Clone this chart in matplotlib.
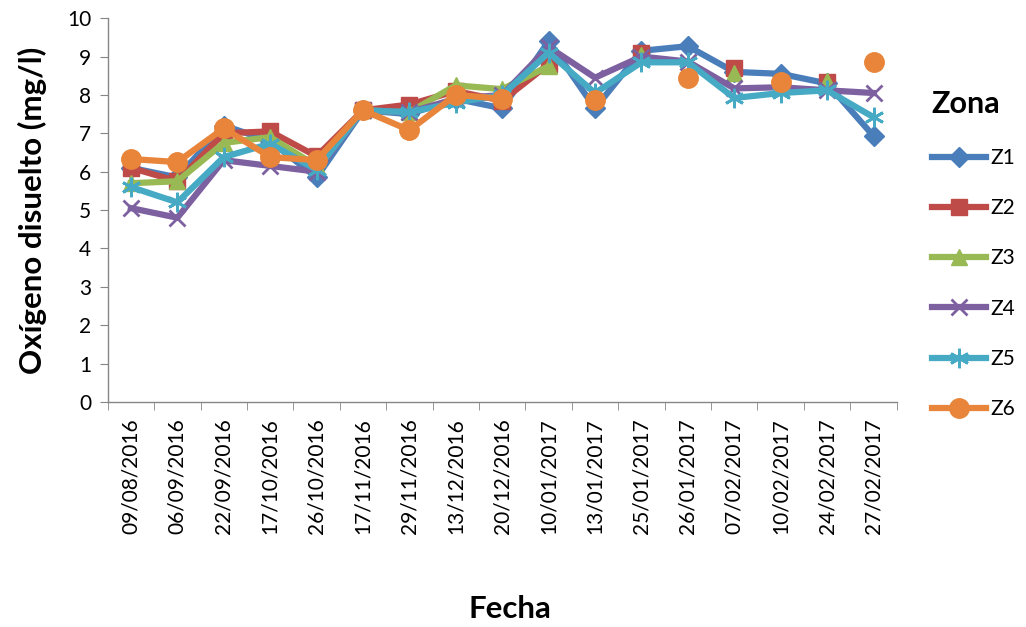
import numpy as np
import matplotlib
matplotlib.use('Agg')
import matplotlib.pyplot as plt

nan = np.nan

fechas = ['09/08/2016', '06/09/2016', '22/09/2016', '17/10/2016', '26/10/2016',
          '17/11/2016', '29/11/2016', '13/12/2016', '20/12/2016', '10/01/2017',
          '13/01/2017', '25/01/2017', '26/01/2017', '07/02/2017', '10/02/2017',
          '24/02/2017', '27/02/2017']

z1 = [6.1, 5.85, 7.2, 6.8, 5.85, 7.6, 7.5, 7.9, 7.65, 9.4, 7.65, 9.15, 9.27, 8.6, 8.55, 8.3, 6.93]
z2 = [6.1, 5.75, 7.0, 7.05, 6.4, 7.6, 7.75, 8.1, 7.85, 8.8, nan, 9.1, nan, 8.7, nan, 8.33, nan]
z3 = [5.7, 5.75, 6.75, 6.9, 6.15, 7.6, 7.55, 8.25, 8.15, 8.75, nan, 9.05, nan, 8.57, nan, 8.35, nan]
z4 = [5.05, 4.8, 6.3, 6.15, 6.0, 7.6, 7.55, 7.9, 8.0, 9.25, 8.45, 9.0, 8.87, 8.17, 8.2, 8.12, 8.05]
z5 = [5.6, 5.2, 6.38, 6.73, 6.05, 7.6, 7.55, 7.8, 8.0, 9.1, 8.05, 8.85, 8.85, 7.92, 8.05, 8.12, 7.42]
z6 = [6.33, 6.25, 7.13, 6.38, 6.3, 7.6, 7.08, 8.0, 7.9, nan, 7.87, nan, 8.44, nan, 8.33, nan, 8.87]

series = [
    ('Z1', z1, '#4A7EBB', 'D', 10),
    ('Z2', z2, '#BE4B48', 's', 11),
    ('Z3', z3, '#98B954', '^', 12),
    ('Z4', z4, '#7D60A0', 'x', 12),
    ('Z5', z5, '#46AAC5', (6, 2, 0), 14),
    ('Z6', z6, '#E8853A', 'o', 14),
]

plt.rcParams['font.family'] = ['Lato', 'DejaVu Sans']

fig = plt.figure(figsize=(10.26, 6.27), dpi=100)
ax = fig.add_axes([0.105, 0.359, 0.769, 0.612])

x = np.arange(len(fechas))
for name, vals, col, mk, ms in series:
    ax.plot(x, vals, color=col, lw=4.5, marker=mk, markersize=ms,
            markeredgewidth=2 if mk in ('x', (6, 2, 0)) else 1,
            markeredgecolor=col, markerfacecolor=col, label=name)

ax.set_xlim(-0.5, len(fechas) - 0.5)
ax.set_ylim(0, 10)
ax.set_yticks(range(0, 11))
ax.set_xticks(x)
ax.set_xticklabels(fechas, rotation=90)
ax.set_xticks(np.arange(-0.5, len(fechas)), minor=True)
ax.tick_params(axis='x', which='major', length=0, pad=12, labelsize=15)
ax.tick_params(axis='x', which='minor', length=6, color='#868686', direction='out')
ax.tick_params(axis='y', length=6, color='#868686', labelsize=15, pad=6)

for s in ['top', 'right']:
    ax.spines[s].set_visible(False)
for s in ['left', 'bottom']:
    ax.spines[s].set_color('#868686')
    ax.spines[s].set_linewidth(1)

ax.set_ylabel('Oxígeno disuelto (mg/l)', fontsize=22.5, fontweight='bold', labelpad=14)
fig.text(0.497, 0.015, 'Fecha', fontsize=22.5, fontweight='bold', ha='center')

leg = fig.legend(loc='upper left', bbox_to_anchor=(0.9, 0.87), frameon=False,
                 title='Zona', fontsize=15, handlelength=2.6, labelspacing=1.45,
                 handletextpad=0.2, borderaxespad=0)
leg.get_title().set_fontsize(22)
leg.get_title().set_fontweight('bold')
leg._legend_box.align = 'left'

fig.savefig('out.png', dpi=100)
plt.close()
